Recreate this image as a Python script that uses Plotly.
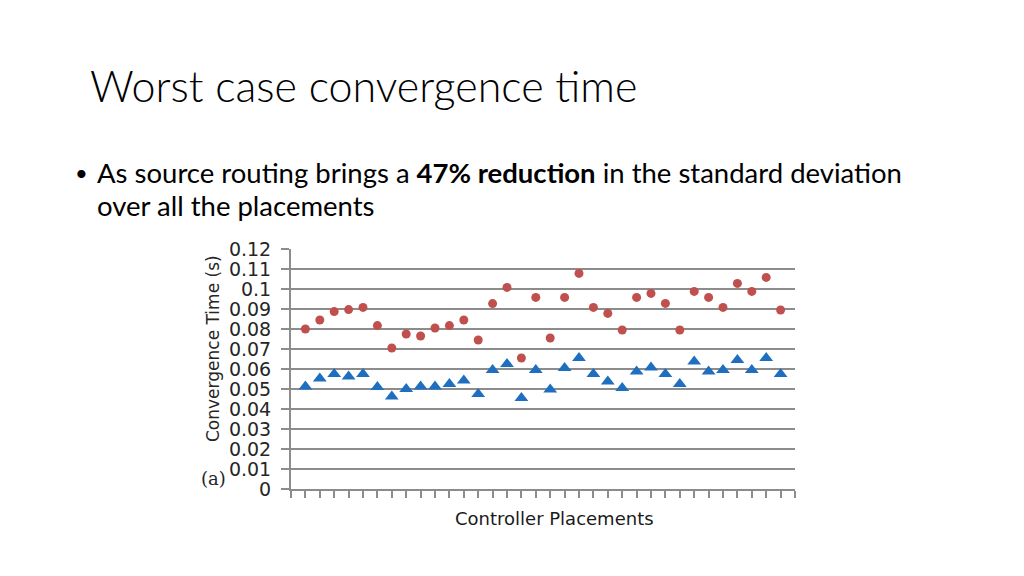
import plotly.graph_objects as go

placements = list(range(1, 35))
standard_routing = [0.080, 0.0845, 0.0887, 0.0897, 0.0908, 0.0817, 0.0705, 0.0775, 0.0765, 0.0805,
                    0.0817, 0.0845, 0.0745, 0.0927, 0.1008, 0.0655, 0.0958, 0.0755, 0.0958, 0.1078,
                    0.0908, 0.0878, 0.0795, 0.0958, 0.0978, 0.0928, 0.0795, 0.0988, 0.0958, 0.0908,
                    0.1028, 0.0988, 0.1058, 0.0895]
source_routing = [0.0513, 0.0553, 0.0575, 0.0563, 0.0575, 0.0510, 0.0462, 0.0500, 0.0513, 0.0513,
                  0.0525, 0.0542, 0.0475, 0.0595, 0.0625, 0.0455, 0.0595, 0.0497, 0.0605, 0.0655,
                  0.0575, 0.0537, 0.0505, 0.0588, 0.0608, 0.0575, 0.0525, 0.0638, 0.0588, 0.0595,
                  0.0645, 0.0595, 0.0655, 0.0575]
y_tickvals = [0, 0.01, 0.02, 0.03, 0.04, 0.05, 0.06, 0.07, 0.08, 0.09, 0.1, 0.11, 0.12]
y_ticktext = ["0", "0.01", "0.02", "0.03", "0.04", "0.05", "0.06", "0.07", "0.08", "0.09", "0.1", "0.11", "0.12"]

OFF = 8  # page body margin
L, R, T, B = 291, 795, 249, 489
W, H = R - L, B - T

def px(x):
    return (x - L) / W

def py(y):
    return (B - y) / H

fig = go.Figure()
fig.add_trace(go.Scatter(x=placements, y=standard_routing, mode="markers",
                         marker=dict(symbol="circle", size=9, color="#c0504d"),
                         showlegend=False))
fig.add_trace(go.Scatter(x=placements, y=source_routing, mode="markers",
                         marker=dict(symbol="triangle-up", size=12, color="#1f6fc0"),
                         showlegend=False))

fig.update_layout(
    width=1024 - OFF, height=576 - OFF,
    margin=dict(l=L - OFF, r=1024 - R, t=T - OFF, b=576 - B, pad=0),
    paper_bgcolor="white", plot_bgcolor="white",
    xaxis=dict(range=[0, 35], dtick=1, tick0=0, showgrid=False, zeroline=False,
               showline=True, linecolor="#8c8c8c", linewidth=2,
               ticks="outside", ticklen=7, tickcolor="#8c8c8c", tickwidth=1.5,
               showticklabels=False),
    yaxis=dict(range=[0, 0.12], tickvals=y_tickvals, ticktext=y_ticktext,
               showgrid=True, gridcolor="#8c8c8c", gridwidth=2, zeroline=False,
               showline=True, linecolor="#8c8c8c", linewidth=2,
               ticks="outside", ticklen=8, tickcolor="#8c8c8c", tickwidth=2,
               ticklabelstandoff=6,
               tickfont=dict(family="DejaVu Sans", size=19, color="#262626")),
    annotations=[
        dict(text="Worst case convergence time", x=px(88), y=py(85), xref="paper", yref="paper",
             xanchor="left", yanchor="middle", showarrow=False,
             font=dict(family="Lato", size=43, color="#000000", weight=300)),
        dict(text="•", x=px(73), y=py(172), xref="paper", yref="paper",
             xanchor="left", yanchor="middle", showarrow=False,
             font=dict(family="Lato", size=22, color="#000000")),
        dict(text="As source routing brings a <b>47% reduction</b> in the standard deviation",
             x=px(95), y=py(172), xref="paper", yref="paper",
             xanchor="left", yanchor="middle", showarrow=False,
             font=dict(family="Lato", size=27.5, color="#000000")),
        dict(text="over all the placements",
             x=px(95), y=py(205), xref="paper", yref="paper",
             xanchor="left", yanchor="middle", showarrow=False,
             font=dict(family="Lato", size=27.5, color="#000000")),
        dict(text="Convergence Time (s)", x=px(213), y=py(349), xref="paper", yref="paper",
             xanchor="center", yanchor="middle", showarrow=False, textangle=-90,
             font=dict(family="DejaVu Sans", size=17, color="#262626")),
        dict(text="(a)", x=px(213), y=py(478), xref="paper", yref="paper",
             xanchor="center", yanchor="middle", showarrow=False,
             font=dict(family="DejaVu Serif", size=18, color="#262626")),
        dict(text="Controller Placements", x=px(554), y=py(518), xref="paper", yref="paper",
             xanchor="center", yanchor="middle", showarrow=False,
             font=dict(family="DejaVu Sans", size=18, color="#1a1a1a")),
    ],
)

fig.write_html("out.html")
